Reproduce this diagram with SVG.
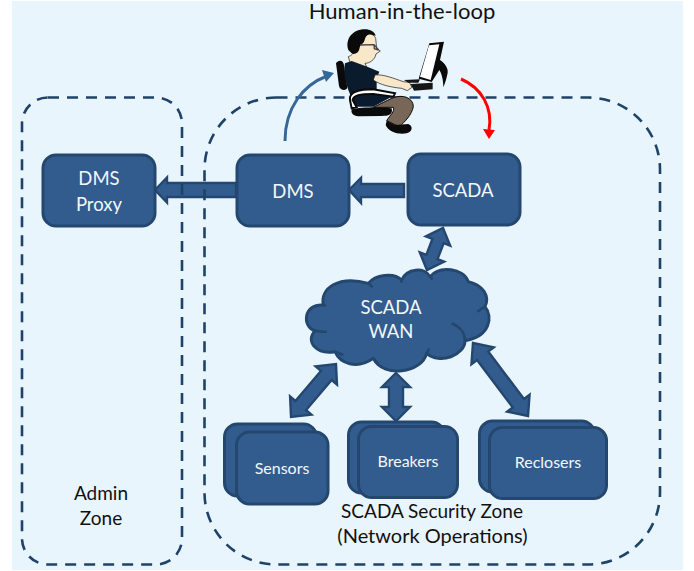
<svg xmlns="http://www.w3.org/2000/svg" width="694" height="571" viewBox="0 0 694 571">
<style>
text{font-family:"Lato","Open Sans","Liberation Sans",sans-serif;text-anchor:middle}
.t{fill:#f2f7fb;font-size:18.5px}
.s{fill:#f2f7fb;font-size:16px}
.k{fill:#111;font-size:19px}
.n{fill:#335c8e;stroke:#24476f;stroke-width:3}
.z{fill:none;stroke:#1f4268;stroke-width:2.6;stroke-dasharray:11 8}
.a{fill:#335c8e;stroke:#24476f;stroke-width:2.4;stroke-linejoin:miter}
</style>
<rect x="0" y="0" width="694" height="571" fill="#fff"/>
<rect x="12" y="1" width="671" height="569" fill="#e9f5fc"/>
<g id="connectors">
<polygon class="a" points="155,190 167,177.500 167,183 236,183 236,197 167,197 167,202.500"/>
<polygon class="a" points="349,190 361,178 361,184 404,184 404,197 361,197 361,203"/>
<polygon class="a" transform="translate(443 228) rotate(110.900)" points="0,0 14,-13 14,-6 31,-6 31,-13 45,0 31,13 31,6 14,6 14,13"/>
<polygon class="a" transform="translate(336 364) rotate(130.300)" points="0,0 15,-14 15,-7 54.500,-7 54.500,-14 69.500,0 54.500,14 54.500,7 15,7 15,14"/>
<polygon class="a" transform="translate(396 373) rotate(90)" points="0,0 14,-14 14,-7 34,-7 34,-14 48,0 34,14 34,7 14,7 14,14"/>
<polygon class="a" transform="translate(473 343) rotate(53)" points="0,0 16,-14 16,-7 75.400,-7 75.400,-14 91.400,0 75.400,14 75.400,7 16,7 16,14"/>
</g>
<g id="admin-zone">
<rect class="z" x="22" y="97.500" width="160" height="467" rx="26"/>
<text class="k" x="101" y="500">Admin</text>
<text class="k" x="101" y="525">Zone</text>
</g>
<g id="security-zone">
<rect class="z" x="204.500" y="97.500" width="455.500" height="467" rx="72"/>
<text class="k" x="432" y="518">SCADA Security Zone</text>
<text class="k" x="432.500" y="543" style="font-size:20px">(Network Operations)</text>
</g>
<g id="dms-proxy">
<rect class="n" x="43" y="155" width="112" height="71" rx="13"/>
<text class="t" x="99" y="185">DMS</text>
<text class="t" x="99" y="211">Proxy</text>
</g>
<g id="dms">
<rect class="n" x="237" y="155" width="112" height="71" rx="13"/>
<text class="t" x="293" y="198">DMS</text>
</g>
<g id="scada">
<rect class="n" x="408" y="154" width="112" height="71" rx="13"/>
<text class="t" x="463" y="197">SCADA</text>
</g>
<g id="scada-wan">
<g transform="translate(290 220) scale(.33333)">
<path d="M100,255 C90,205 145,165 235,190 C255,165 310,155 335,180 C350,145 405,140 420,170 C450,135 520,145 535,185 C580,195 600,230 585,260 C610,290 600,350 525,362 C525,405 450,435 410,400 C395,460 280,475 250,415 C200,450 150,430 135,395 C80,405 45,365 75,332 C35,320 40,250 100,255 Z" fill="#335c8e" stroke="#24476f" stroke-width="9" stroke-linejoin="round"/>
<path d="M75,332 Q92,336 110,335 M135,395 L160,405 M250,415 L265,432 M410,400 L418,385 M485,310 C510,320 525,340 525,362 M562,275 L585,260 M235,190 L248,202 M335,180 L333,188 M420,170 L428,178 M100,255 L108,257" fill="none" stroke="#24476f" stroke-width="8"/>
</g>
<text class="t" x="391" y="314">SCADA</text>
<text class="t" x="391" y="338">WAN</text>
</g>
<g id="sensors">
<rect class="n" x="224.500" y="424" width="92" height="72" rx="13"/>
<rect class="n" x="236.500" y="432" width="91.500" height="72" rx="13"/>
<text class="s" x="282" y="474">Sensors</text>
</g>
<g id="breakers">
<rect class="n" x="348.500" y="422" width="96" height="71" rx="13"/>
<rect class="n" x="358.500" y="426.500" width="99" height="71" rx="13"/>
<text class="s" x="408" y="467">Breakers</text>
</g>
<g id="reclosers">
<rect class="n" x="479.500" y="421" width="115" height="71" rx="13"/>
<rect class="n" x="489.500" y="427.500" width="117" height="71" rx="13"/>
<text class="s" x="548" y="468">Reclosers</text>
</g>
<g id="human">
<text class="k" x="402" y="19" style="font-size:22px">Human-in-the-loop</text>
<g transform="translate(280 0) scale(.33333)">
<path d="M168,190 C175,178 190,180 192,195 L202,262 C200,275 180,272 177,258 Z" fill="#0a0a0a"/>
<path d="M238,105 C255,95 280,98 287,115 L290,145 L301,153 L288,162 C285,180 268,190 255,190 L262,205 L215,205 L205,170 C225,165 235,130 238,105 Z" fill="#f8e7c8" stroke="#111" stroke-width="2"/>
<path d="M205,150 C195,120 215,88 255,88 C270,88 285,95 287,108 C265,98 258,105 254,120 C250,135 240,130 238,148 C235,160 222,165 215,160 Z" fill="#0a0a0a"/>
<path d="M240,135 L282,134 L296,150 M282,134 L283,146 L296,150" fill="none" stroke="#444" stroke-width="4"/>
<path d="M195,190 L215,183 L262,200 L298,215 L290,235 L290,270 L345,285 L280,320 L225,320 L205,270 C195,240 190,215 195,190 Z" fill="#0b1b2e"/>
<path d="M210,300 C205,275 240,268 280,268 L345,280 L340,290 L280,282 C240,282 220,285 218,300 L230,322 L215,325 Z" fill="#fff" stroke="#0a0a0a" stroke-width="6"/>
<path d="M280,322 L335,295 C370,280 400,295 400,320 C395,345 375,365 358,380 L320,362 C330,345 345,335 340,322 Z" fill="#786757" stroke="#0a0a0a" stroke-width="3"/>
<path d="M215,328 C240,320 320,320 335,325 C340,345 325,348 305,348 L235,349 C220,348 212,340 215,328 Z" fill="#0a0a0a"/>
<path d="M320,362 L345,375 L385,372 C400,378 398,395 380,400 C355,405 325,395 317,375 Z" fill="#0a0a0a"/>
<path d="M285,225 C310,222 340,235 370,245 L388,247 L396,262 L382,272 L365,265 C335,262 300,255 280,240 Z" fill="#f8e7c8" stroke="#111" stroke-width="2"/>
<path d="M372,240 L420,238 L415,248 L385,248 Z M392,252 L458,248 L458,268 L402,272 Z" fill="#161616"/>
<path d="M448,130 L492,125 L480,180 C495,190 505,205 503,218 C500,235 495,250 490,262 C490,240 485,220 478,210 L455,246 L416,236 Z" fill="#0a0a0a"/>
<path d="M447,136 L478,133 L452,240 L420,230 Z" fill="#fff"/>
</g>
<path d="M285,141 C285,108 303,85 327,76" fill="none" stroke="#356899" stroke-width="3"/>
<polygon points="334,73 322,70 326,82" fill="#356899"/>
<path d="M461,79 C482,88 493,108 489,130" fill="none" stroke="#f00" stroke-width="3"/>
<polygon points="489,139 483,129 495,130" fill="#f00"/>
</g>
</svg>
